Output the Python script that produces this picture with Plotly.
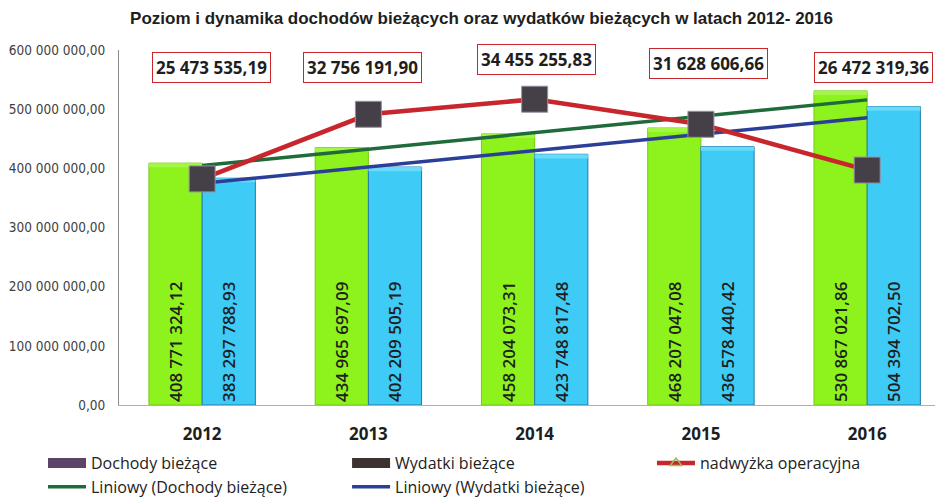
import numpy as np
import plotly.graph_objects as go

years = ["2012", "2013", "2014", "2015", "2016"]
dochody = [408771324.12, 434965697.09, 458204073.31, 468207047.08, 530867021.86]
wydatki = [383297788.93, 402209505.19, 423748817.48, 436578440.42, 504394702.50]
nadwyzka = [25473535.19, 32756191.90, 34455255.83, 31628606.66, 26472319.36]
dochody_txt = ["408 771 324,12", "434 965 697,09", "458 204 073,31", "468 207 047,08", "530 867 021,86"]
wydatki_txt = ["383 297 788,93", "402 209 505,19", "423 748 817,48", "436 578 440,42", "504 394 702,50"]
nadwyzka_txt = ["25 473 535,19", "32 756 191,90", "34 455 255,83", "31 628 606,66", "26 472 319,36"]
y_tickvals = [0, 100e6, 200e6, 300e6, 400e6, 500e6, 600e6]
y_ticktext = ["0,00", "100 000 000,00", "200 000 000,00", "300 000 000,00",
              "400 000 000,00", "500 000 000,00", "600 000 000,00"]

title = "Poziom i dynamika dochodów bieżących oraz wydatków bieżących w latach 2012- 2016"

# linear trendlines (Excel "Liniowy")
xi = np.arange(len(years))
cd = np.polyfit(xi, dochody, 1)
cw = np.polyfit(xi, wydatki, 1)
trend_d = np.polyval(cd, xi)
trend_w = np.polyval(cw, xi)

GREEN = "#8ef21c"
BLUE = "#3ecbf6"
RED = "#c8262c"
TGREEN = "#1f6b3a"
TBLUE = "#2b3f98"

bar_font = dict(family="Open Sans, Liberation Sans, sans-serif", size=17, color="#1e1e1e", weight=600)
leg_font = dict(family="Open Sans, Liberation Sans, sans-serif", size=16, color="#222222")

BEVEL = 7e6  # height of the lighter top cap of each bar (visual bevel)

fig = go.Figure()
fig.add_trace(go.Bar(
    x=years, y=dochody, name="Dochody bieżące", offsetgroup="d",
    marker=dict(color=GREEN, line=dict(color="#74cc14", width=1)),
    text=dochody_txt, textposition="inside", insidetextanchor="start", textangle=-90,
    textfont=bar_font, showlegend=False, hoverinfo="skip"))
fig.add_trace(go.Bar(
    x=years, y=wydatki, name="Wydatki bieżące", offsetgroup="w",
    marker=dict(color=BLUE, line=dict(color="#1f78a8", width=1)),
    text=wydatki_txt, textposition="inside", insidetextanchor="start", textangle=-90,
    textfont=bar_font, showlegend=False, hoverinfo="skip"))
# bevel caps
fig.add_trace(go.Bar(
    x=years, y=[BEVEL] * len(years), base=[v - BEVEL for v in dochody], offsetgroup="d",
    marker=dict(color="#a4f545", line=dict(width=0)), showlegend=False, hoverinfo="skip"))
fig.add_trace(go.Bar(
    x=years, y=[BEVEL] * len(years), base=[v - BEVEL for v in wydatki], offsetgroup="w",
    marker=dict(color="#68dbfa", line=dict(width=0)), showlegend=False, hoverinfo="skip"))

# trendlines
fig.add_trace(go.Scatter(x=years, y=trend_d, mode="lines", name="Liniowy (Dochody bieżące)",
                         line=dict(color=TGREEN, width=3.5), legend="legend", legendrank=2))
fig.add_trace(go.Scatter(x=years, y=trend_w, mode="lines", name="Liniowy (Wydatki bieżące)",
                         line=dict(color=TBLUE, width=3.5), legend="legend2", legendrank=2))

# nadwyżka operacyjna on hidden secondary axis
fig.add_trace(go.Scatter(x=years, y=nadwyzka, yaxis="y2", mode="lines", showlegend=False,
                         line=dict(color=RED, width=4.5)))
fig.add_trace(go.Scatter(x=years, y=nadwyzka, yaxis="y2", mode="markers", showlegend=False,
                         marker=dict(symbol="square", size=26, color="#454048",
                                     line=dict(color="#9a8fa8", width=1))))

# legend-only entries
fig.add_trace(go.Scatter(x=[None], y=[None], mode="lines", name="Dochody bieżące",
                         line=dict(color="#5b4468", width=11), legend="legend", legendrank=1))
fig.add_trace(go.Scatter(x=[None], y=[None], mode="lines", name="Wydatki bieżące",
                         line=dict(color="#3c3230", width=11), legend="legend2", legendrank=1))
fig.add_trace(go.Scatter(x=[None], y=[None], mode="lines+markers", name="nadwyżka operacyjna",
                         line=dict(color=RED, width=4.5),
                         marker=dict(symbol="triangle-up-open", size=10, color="#9bbb59",
                                     line=dict(width=1.5)), legend="legend3"))

# value boxes for nadwyżka
box_shift = [9, -6, 2, 8, 6]
box_y = [0.952, 0.952, 0.972, 0.963, 0.952]
for i, t in enumerate(nadwyzka_txt):
    fig.add_annotation(x=i, y=box_y[i], xref="x", yref="paper", text=t, showarrow=False,
                       xshift=box_shift[i], yanchor="middle",
                       font=dict(family="Open Sans, Liberation Sans, sans-serif", size=17,
                                 color="#1e1e1e", weight=700),
                       bgcolor="white", bordercolor="#c8262c", borderwidth=1, borderpad=3)

legend_common = dict(orientation="v", xref="container", xanchor="left", yref="container",
                     y=0.1025, yanchor="top", itemwidth=38, traceorder="normal",
                     font=leg_font, bgcolor="rgba(0,0,0,0)", tracegroupgap=0)

fig.update_layout(
    width=935, height=497,
    margin=dict(l=119, r=0, t=50, b=92, autoexpand=False),
    paper_bgcolor="white", plot_bgcolor="white",
    title=dict(text=title, x=0.515, xanchor="center", xref="container", y=0.964, yref="container",
               yanchor="middle",
               font=dict(family="Liberation Sans, Arial, sans-serif", size=17, color="#1e1e1e", weight="bold")),
    barmode="group", bargap=0.36, bargroupgap=0,
    xaxis=dict(type="category", range=[-0.5, 4.408], showline=True, linecolor="#b0b0b0", linewidth=1,
               showgrid=False, ticks="", ticklabelstandoff=14,
               tickfont=dict(family="Open Sans, Liberation Sans, sans-serif", size=17, color="#1e1e1e",
                             weight=700)),
    yaxis=dict(range=[0, 600e6], tickvals=y_tickvals, ticktext=y_ticktext, showline=True,
               linecolor="#8c8c8c", linewidth=1, showgrid=False, zeroline=False, ticks="",
               ticklabelstandoff=10,
               tickfont=dict(family="Liberation Sans Narrow, DejaVu Sans Condensed, sans-serif", size=13.5,
                             color="#404040")),
    yaxis2=dict(range=[0, 40e6], overlaying="y", visible=False),
    showlegend=True,
    legend=dict(x=0.046, **legend_common),
    legend2=dict(x=0.3712, **legend_common),
    legend3=dict(x=0.6973, **legend_common),
)

fig.write_html("out.html", config={"displayModeBar": False},
               post_script="document.body.style.margin='0';document.body.style.padding='0';")
